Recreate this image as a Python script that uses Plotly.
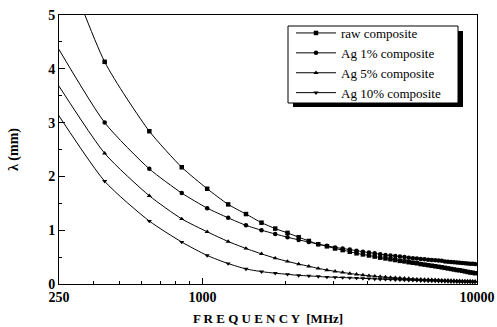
import plotly.graph_objects as go

freq = [240, 440, 640, 840, 1040, 1240, 1440, 1640, 1840, 2040, 2240, 2440, 2640, 2840, 3040,
        3240, 3440, 3640, 3840, 4040, 4240, 4440, 4640, 4840, 5040, 5240, 5440, 5640, 5840,
        6040, 6240, 6440, 6640, 6840, 7040, 7240, 7440, 7640, 7840, 8040, 8240, 8440, 8640,
        8840, 9040, 9240, 9440, 9640, 9840]

raw = [7.6, 4.13, 2.84, 2.17, 1.77, 1.48, 1.30, 1.14, 1.03, 0.95, 0.87, 0.80, 0.74, 0.70, 0.66,
       0.63, 0.60, 0.57, 0.55, 0.53, 0.51, 0.49, 0.475, 0.46, 0.445, 0.43, 0.42, 0.405, 0.395,
       0.385, 0.37, 0.36, 0.35, 0.34, 0.33, 0.32, 0.31, 0.30, 0.29, 0.28, 0.27, 0.26, 0.255,
       0.245, 0.235, 0.225, 0.215, 0.21, 0.20]

ag1 = [5.2, 3.00, 2.14, 1.69, 1.41, 1.23, 1.09, 1.00, 0.93, 0.87, 0.82, 0.78, 0.74, 0.71, 0.68,
       0.66, 0.64, 0.62, 0.60, 0.585, 0.57, 0.555, 0.54, 0.53, 0.52, 0.51, 0.50, 0.49, 0.48,
       0.475, 0.465, 0.46, 0.45, 0.445, 0.44, 0.435, 0.43, 0.42, 0.415, 0.41, 0.405, 0.40, 0.395,
       0.39, 0.385, 0.38, 0.378, 0.375, 0.37]

ag5 = [4.45, 2.43, 1.64, 1.21, 0.97, 0.79, 0.66, 0.56, 0.48, 0.42, 0.37, 0.33, 0.29, 0.26, 0.235,
       0.215, 0.195, 0.18, 0.165, 0.155, 0.145, 0.135, 0.128, 0.12, 0.115, 0.11, 0.105, 0.10, 0.095,
       0.09, 0.088, 0.085, 0.082, 0.08, 0.077, 0.075, 0.072, 0.07, 0.068, 0.066, 0.064, 0.062, 0.06,
       0.058, 0.057, 0.055, 0.054, 0.052, 0.05]

ag10 = [3.88, 1.91, 1.17, 0.78, 0.53, 0.38, 0.28, 0.23, 0.20, 0.18, 0.16, 0.15, 0.14, 0.13, 0.125,
        0.12, 0.115, 0.11, 0.105, 0.10, 0.095, 0.09, 0.087, 0.083, 0.08, 0.077, 0.074, 0.071, 0.068,
        0.065, 0.062, 0.06, 0.058, 0.056, 0.054, 0.052, 0.05, 0.048, 0.046, 0.044, 0.042, 0.041, 0.04,
        0.039, 0.038, 0.037, 0.036, 0.035, 0.034]

series_names = ["raw composite", "Ag 1% composite", "Ag 5% composite", "Ag 10% composite"]
series_symbols = ["square", "circle", "triangle-up", "triangle-down"]

x_tickvals = [300, 1000, 10000]
x_ticktext = ["250", "1000", "10000"]
x_minor_ticks = [400, 500, 600, 700, 800, 900, 2000, 3000, 4000]
y_tickvals = [0, 1, 2, 3, 4, 5]

serif = "Liberation Serif, Times New Roman, DejaVu Serif, serif"

fig = go.Figure()
for name, ys, sym in zip(series_names, [raw, ag1, ag5, ag10], series_symbols):
    fig.add_trace(go.Scatter(
        x=freq, y=ys, name=name, mode="lines+markers",
        line=dict(color="black", width=1, shape="spline", smoothing=0.6),
        marker=dict(symbol=sym, size=4.5, color="black"),
    ))

L, R, T, B = 59, 20, 15, 43
W, H = 497, 327
pw, ph = W - L - R, H - T - B

def px2paper(x, y):
    return (x - L) / pw, (H - B - y) / ph

# legend shadow and frame
sx0, sy0 = px2paper(293, 107)
sx1, sy1 = px2paper(463, 31)
fig.add_shape(type="rect", xref="paper", yref="paper", x0=sx0, y0=sy0, x1=sx1, y1=sy1,
              fillcolor="black", line=dict(width=0), layer="above")
bx0, by0 = px2paper(288, 103)
bx1, by1 = px2paper(458, 26)
fig.add_shape(type="rect", xref="paper", yref="paper", x0=bx0, y0=by0, x1=bx1, y1=by1,
              fillcolor="white", line=dict(width=1, color="black"), layer="above")

lx, ly = px2paper(291, 18)

fig.update_layout(
    width=W, height=H,
    margin=dict(l=L, r=R, t=T, b=B, autoexpand=False),
    paper_bgcolor="white", plot_bgcolor="white",
    font=dict(family=serif, color="black"),
    showlegend=True,
    legend=dict(x=lx, y=ly, xanchor="left", yanchor="top",
                bgcolor="rgba(0,0,0,0)", borderwidth=0,
                font=dict(family=serif, size=13, color="black"),
                tracegroupgap=0, itemwidth=40),
    xaxis=dict(type="log", range=[2.4771, 4.0], showgrid=False, zeroline=False,
               automargin=False,
               showline=True, linecolor="black", linewidth=1, mirror=True,
               tickmode="array", tickvals=x_tickvals, ticktext=x_ticktext,
               ticks="inside", ticklen=6, tickcolor="black",
               tickfont=dict(family=serif, size=14, color="black", weight="bold"),
               minor=dict(tickmode="array", tickvals=x_minor_ticks, ticks="inside",
                          ticklen=3, tickcolor="black"),
               title=dict(text="F R E Q U E N C Y  [MHz]", standoff=10,
                          font=dict(family=serif, size=13, color="black", weight="bold"))),
    yaxis=dict(range=[0, 5], showgrid=False, zeroline=False,
               automargin=False,
               showline=True, linecolor="black", linewidth=1, mirror=True,
               tickmode="array", tickvals=y_tickvals,
               ticks="inside", ticklen=6, tickcolor="black",
               tickfont=dict(family=serif, size=14, color="black", weight="bold"),
               minor=dict(dtick=0.5, ticks="inside", ticklen=3, tickcolor="black"),
               title=dict(text="λ (mm)", standoff=26,
                          font=dict(family=serif, size=14, color="black", weight="bold"))),
)

fig.write_html("out.html")
